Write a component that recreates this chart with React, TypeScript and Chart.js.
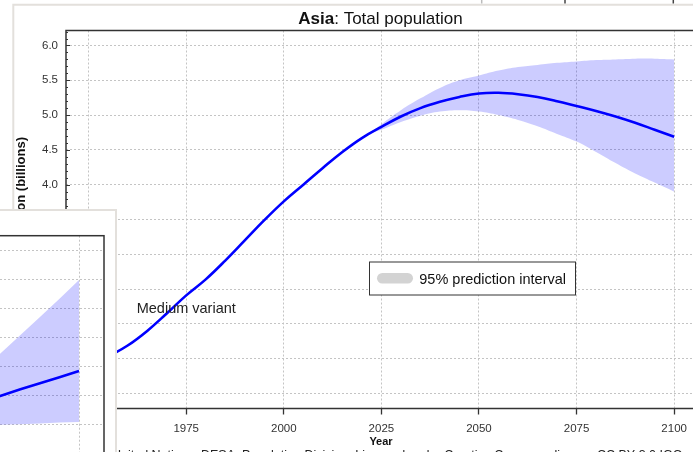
import { useEffect, useRef } from 'react';
import { Chart, registerables } from 'chart.js';

Chart.register(...registerables);

const FONT = '"Liberation Sans", Arial, Helvetica, sans-serif';

// ---- main chart data (Asia, billions) ----
const years = [1950, 1955, 1960, 1965, 1970, 1975, 1980, 1985, 1990, 1995, 2000, 2005, 2010, 2015, 2020, 2025, 2030, 2035, 2040, 2045, 2050, 2055, 2060, 2065, 2070, 2075, 2080, 2085, 2090, 2095, 2100];
const medianPop = [1.38, 1.53, 1.69, 1.9, 2.15, 2.41, 2.64, 2.91, 3.2, 3.49, 3.76, 4.0, 4.24, 4.47, 4.67, 4.83, 4.98, 5.1, 5.19, 5.26, 5.31, 5.32, 5.3, 5.26, 5.2, 5.13, 5.06, 4.98, 4.89, 4.79, 4.69];
const bandYears = [2022, 2025, 2030, 2035, 2040, 2045, 2050, 2055, 2060, 2065, 2070, 2075, 2080, 2085, 2090, 2095, 2100];
const lower95 = [4.74, 4.79, 4.9, 4.99, 5.05, 5.07, 5.05, 5.0, 4.93, 4.84, 4.73, 4.62, 4.47, 4.31, 4.16, 4.03, 3.9];
const upper95 = [4.74, 4.87, 5.07, 5.24, 5.39, 5.5, 5.57, 5.64, 5.69, 5.72, 5.75, 5.77, 5.79, 5.8, 5.81, 5.81, 5.8];
const xTickYears = [1950, 1975, 2000, 2025, 2050, 2075, 2100];
const yTickValues = [1.0, 1.5, 2.0, 2.5, 3.0, 3.5, 4.0, 4.5, 5.0, 5.5, 6.0];

// ---- overlapping window (partly visible chart) ----
const insetYears = [2075, 2080, 2085, 2090, 2095, 2100];
const insetMedian = [1.77, 1.98, 2.2, 2.41, 2.62, 2.83];
const insetLower = [0.95, 0.97, 0.99, 1.02, 1.05, 1.07];
const insetUpper = [2.86, 3.46, 4.08, 4.7, 5.33, 5.98];
const insetXTicks = [2000, 2025, 2050, 2075, 2100];
const insetYTicks = [0, 1, 2, 3, 4, 5, 6, 7];

const BLUE = '#0000ff';
const BAND = 'rgba(0,0,255,0.2)';
const GRID = '#c4c4c4';

const pts = (xs: number[], ys: number[]) => xs.map((x, i) => ({ x, y: ys[i] }));

const mainDecor = {
  id: 'mainDecor',
  beforeDraw(chart: any) {
    const ctx = chart.ctx;
    ctx.save();
    ctx.fillStyle = '#ffffff';
    ctx.fillRect(0, 0, chart.width, chart.height);
    ctx.strokeStyle = '#e3e0dc';
    ctx.lineWidth = 2;
    ctx.beginPath();
    ctx.moveTo(13.3, 452);
    ctx.lineTo(13.3, 4.7);
    ctx.lineTo(chart.width, 4.7);
    ctx.stroke();
    ctx.lineWidth = 1.5;
    ctx.strokeStyle = '#bbbbbb';
    ctx.beginPath(); ctx.moveTo(481.7, 0); ctx.lineTo(481.7, 3.5); ctx.stroke();
    ctx.strokeStyle = '#444444';
    ctx.beginPath(); ctx.moveTo(565, 0); ctx.lineTo(565, 3.5); ctx.stroke();
    ctx.beginPath(); ctx.moveTo(673.3, 0); ctx.lineTo(673.3, 3.5); ctx.stroke();
    ctx.restore();
  },
  afterDraw(chart: any) {
    const ctx = chart.ctx;
    const a = chart.chartArea;
    const ys = chart.scales.y;
    ctx.save();
    // frame
    ctx.strokeStyle = '#333333';
    ctx.lineWidth = 1.5;
    ctx.strokeRect(a.left, a.top, a.right - a.left, a.bottom - a.top);
    // y ticks (inward, with minor ticks)
    ctx.lineWidth = 1;
    for (let i = 8; i <= 62; i++) {
      const v = i / 10;
      const py = Math.round(ys.getPixelForValue(v)) + 0.5;
      if (py < a.top || py > a.bottom) continue;
      const len = i % 5 === 0 ? 4 : 2;
      ctx.beginPath();
      ctx.moveTo(a.left, py);
      ctx.lineTo(a.left + len, py);
      ctx.stroke();
    }
    // title
    ctx.fillStyle = '#111111';
    ctx.textBaseline = 'alphabetic';
    ctx.textAlign = 'left';
    const boldF = `bold 17px ${FONT}`;
    const regF = `17px ${FONT}`;
    ctx.font = boldF;
    const w1 = ctx.measureText('Asia').width;
    ctx.font = regF;
    const w2 = ctx.measureText(': Total population').width;
    const sx = 380.5 - (w1 + w2) / 2;
    ctx.font = boldF;
    ctx.fillText('Asia', sx, 23.5);
    ctx.font = regF;
    ctx.fillText(': Total population', sx + w1, 23.5);
    // y axis title
    ctx.save();
    ctx.translate(24.5, 199.5);
    ctx.rotate(-Math.PI / 2);
    ctx.font = `bold 13px ${FONT}`;
    ctx.textAlign = 'center';
    ctx.fillStyle = '#111111';
    ctx.fillText('Population (billions)', 0, 0);
    ctx.restore();
    // x axis title
    ctx.font = `bold 11px ${FONT}`;
    ctx.textAlign = 'center';
    ctx.fillText('Year', 381, 445);
    // caption
    ctx.font = `12.5px ${FONT}`;
    ctx.textAlign = 'left';
    ctx.fillStyle = '#222222';
    ctx.fillText('United Nations, DESA, Population Division. Licensed under Creative Commons license CC BY 3.0 IGO', 112, 459);
    // medium variant label
    ctx.font = `14.5px ${FONT}`;
    ctx.fillStyle = '#222222';
    ctx.fillText('Medium variant', 136.7, 313.3);
    // legend box
    ctx.fillStyle = '#ffffff';
    ctx.fillRect(369.5, 262, 206, 33);
    ctx.strokeStyle = '#333333';
    ctx.lineWidth = 1;
    ctx.strokeRect(369.5, 262, 206, 33);
    ctx.fillStyle = '#d3d3d3';
    ctx.beginPath();
    ctx.roundRect(377, 273, 36, 10.5, 5.25);
    ctx.fill();
    ctx.fillStyle = '#111111';
    ctx.font = `14.5px ${FONT}`;
    ctx.fillText('95% prediction interval', 419.3, 284);
    ctx.restore();
  },
};

const insetDecor = {
  id: 'insetDecor',
  afterDraw(chart: any) {
    const ctx = chart.ctx;
    const a = chart.chartArea;
    ctx.save();
    ctx.strokeStyle = '#333333';
    ctx.lineWidth = 1.5;
    ctx.strokeRect(a.left, a.top, a.right - a.left, a.bottom - a.top);
    ctx.restore();
  },
};

export default function App() {
  const mainRef = useRef<HTMLCanvasElement>(null);
  const insetRef = useRef<HTMLCanvasElement>(null);

  useEffect(() => {
    const main = new Chart(mainRef.current as HTMLCanvasElement, {
      type: 'line',
      data: {
        datasets: [
          {
            data: pts(years, medianPop),
            borderColor: BLUE,
            borderWidth: 2.6,
            pointRadius: 0,
            fill: false,
            tension: 0.4,
          },
          {
            data: pts(bandYears, lower95),
            borderWidth: 0,
            borderColor: 'rgba(0,0,0,0)',
            pointRadius: 0,
            fill: false,
            tension: 0.4,
          },
          {
            data: pts(bandYears, upper95),
            borderWidth: 0,
            borderColor: 'rgba(0,0,0,0)',
            backgroundColor: BAND,
            pointRadius: 0,
            fill: '-1',
            tension: 0.4,
          },
        ],
      } as any,
      options: {
        animation: false,
        responsive: false,
        maintainAspectRatio: false,
        events: [],
        layout: { padding: { left: 0, top: 30.5, right: 4, bottom: 0 } },
        plugins: { legend: { display: false }, tooltip: { enabled: false }, title: { display: false } },
        scales: {
          x: {
            type: 'linear',
            min: 1944.2,
            max: 2105.6,
            afterBuildTicks: (s: any) => { s.ticks = xTickYears.map((v) => ({ value: v })); },
            afterFit: (s: any) => { s.height = 43.5; },
            grid: { color: GRID, lineWidth: 1, drawTicks: true, tickLength: 6, tickColor: '#333333', tickWidth: 1.3, tickBorderDash: [] },
            border: { display: false, dash: [2, 2] },
            ticks: { color: '#333333', font: { size: 11.5, family: FONT }, padding: 7, maxRotation: 0, autoSkip: false, callback: (v: any) => String(v) },
          },
          y: {
            type: 'linear',
            min: 0.785,
            max: 6.215,
            afterBuildTicks: (s: any) => { s.ticks = yTickValues.map((v) => ({ value: v })); },
            afterFit: (s: any) => { s.width = 66; },
            grid: { color: GRID, lineWidth: 1, drawTicks: false },
            border: { display: false, dash: [2, 2] },
            ticks: { color: '#333333', font: { size: 11.5, family: FONT }, padding: 8, callback: (v: any) => Number(v).toFixed(1) },
          },
        },
      } as any,
      plugins: [mainDecor],
    });

    const inset = new Chart(insetRef.current as HTMLCanvasElement, {
      type: 'line',
      data: {
        datasets: [
          {
            data: pts(insetYears, insetMedian),
            borderColor: BLUE,
            borderWidth: 2.6,
            pointRadius: 0,
            fill: false,
          },
          {
            data: pts(insetYears, insetLower),
            borderWidth: 0,
            borderColor: 'rgba(0,0,0,0)',
            pointRadius: 0,
            fill: false,
          },
          {
            data: pts(insetYears, insetUpper),
            borderWidth: 0,
            borderColor: 'rgba(0,0,0,0)',
            backgroundColor: BAND,
            pointRadius: 0,
            fill: '-1',
          },
        ],
      } as any,
      options: {
        animation: false,
        responsive: false,
        maintainAspectRatio: false,
        events: [],
        layout: { padding: { left: 0, top: 24.7, right: 12, bottom: 0 } },
        plugins: { legend: { display: false }, tooltip: { enabled: false }, title: { display: false } },
        scales: {
          x: {
            type: 'linear',
            min: 1981.43,
            max: 2106.4,
            afterBuildTicks: (s: any) => { s.ticks = insetXTicks.map((v) => ({ value: v })); },
            afterFit: (s: any) => { s.height = 0; },
            grid: { color: GRID, lineWidth: 1, drawTicks: false },
            border: { display: false, dash: [2, 2] },
            ticks: { display: false },
          },
          y: {
            type: 'linear',
            min: -0.28,
            max: 7.515,
            afterBuildTicks: (s: any) => { s.ticks = insetYTicks.map((v) => ({ value: v })); },
            afterFit: (s: any) => { s.width = 0; },
            grid: { color: GRID, lineWidth: 1, drawTicks: false },
            border: { display: false, dash: [2, 2] },
            ticks: { display: false },
          },
        },
      } as any,
      plugins: [insetDecor],
    });

    return () => {
      main.destroy();
      inset.destroy();
    };
  }, []);

  return (
    <div style={{ position: 'fixed', left: 0, top: 0, width: 693, height: 452, overflow: 'hidden', background: '#ffffff' }}>
      <canvas ref={mainRef} width={700} height={452} style={{ position: 'absolute', left: 0, top: 0, width: 700, height: 452 }} />
      <div
        style={{
          position: 'absolute',
          left: 0,
          top: 209,
          width: 115,
          height: 241,
          background: '#ffffff',
          borderTop: '2px solid #e3e0dc',
          borderRight: '2px solid #e3e0dc',
          overflow: 'hidden',
        }}
      >
        <canvas ref={insetRef} width={500} height={250} style={{ position: 'absolute', left: -384, top: 0, width: 500, height: 250 }} />
      </div>
    </div>
  );
}
